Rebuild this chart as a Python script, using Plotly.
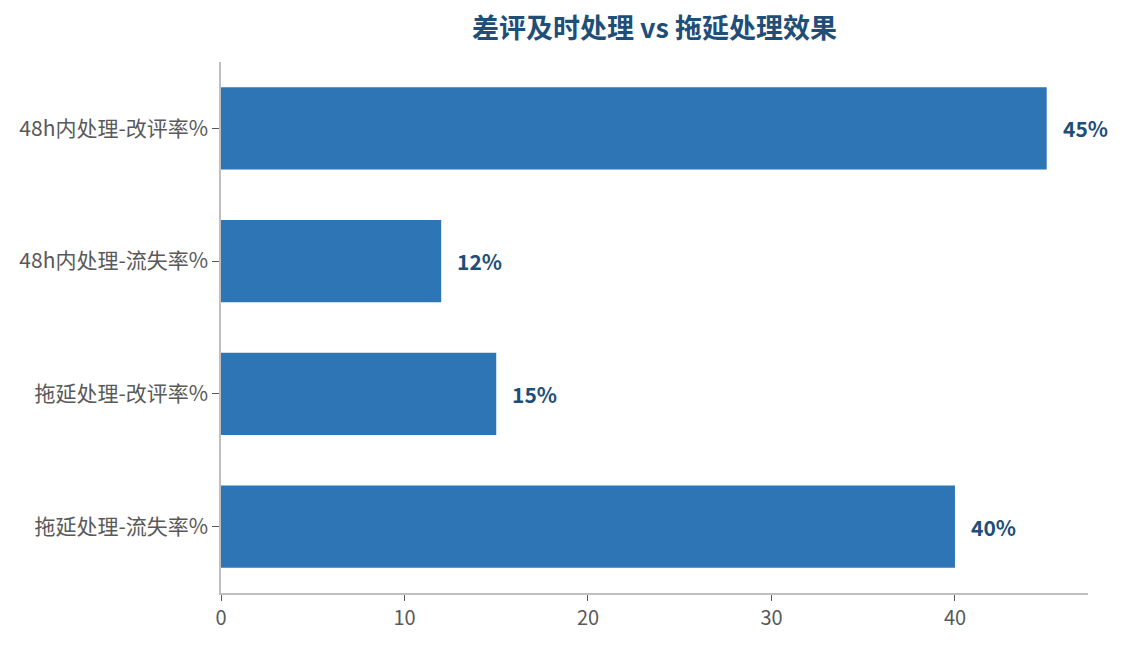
import plotly.graph_objects as go

categories = ["48h内处理-改评率%", "48h内处理-流失率%", "拖延处理-改评率%", "拖延处理-流失率%"]
values = [45, 12, 15, 40]
labels = ["45%", "12%", "15%", "40%"]

bar_color = "#2E75B6"
dark_blue = "#1F4E79"
font_family = "Noto Sans CJK SC, Microsoft YaHei, sans-serif"

W, H = 1109, 629

fig = go.Figure()
fig.add_trace(go.Bar(
    y=categories,
    x=values,
    orientation="h",
    marker=dict(color=bar_color, line=dict(width=0)),
    width=0.62,
    hoverinfo="x+y",
))

for c, v, t in zip(categories, values, labels):
    fig.add_annotation(
        x=v, y=c, text=f"<b>{t}</b>", showarrow=False,
        xanchor="left", yanchor="middle", xshift=14,
        font=dict(size=21, color=dark_blue, family=font_family),
    )

fig.update_layout(
    width=W, height=H,
    margin=dict(l=213, r=29, t=54, b=44),
    paper_bgcolor="white",
    plot_bgcolor="white",
    showlegend=False,
    title=dict(
        text="<b>差评及时处理 vs 拖延处理效果</b>",
        x=0.5, xref="paper", xanchor="center",
        y=1 - 21 / H, yref="container", yanchor="middle",
        font=dict(size=27, color=dark_blue, family=font_family),
    ),
    font=dict(family=font_family, size=20, color="#595959"),
    xaxis=dict(
        range=[0, 47.25],
        tickvals=[0, 10, 20, 30, 40],
        showgrid=False, zeroline=False,
        showline=True, linecolor="#BFBFBF", linewidth=1.5,
        ticks="outside", ticklen=6, tickcolor="#595959", tickwidth=1,
        tickfont=dict(size=20, color="#595959"),
        automargin=False,
        fixedrange=True,
    ),
    yaxis=dict(
        categoryorder="array", categoryarray=categories[::-1],
        autorange=True,
        showgrid=False, zeroline=False,
        showline=True, linecolor="#BFBFBF", linewidth=1.5,
        ticks="outside", ticklen=7, tickcolor="#595959", tickwidth=1,
        tickfont=dict(size=21, color="#595959"),
        automargin=False,
        fixedrange=True,
    ),
)

fig.write_html("out.html")
